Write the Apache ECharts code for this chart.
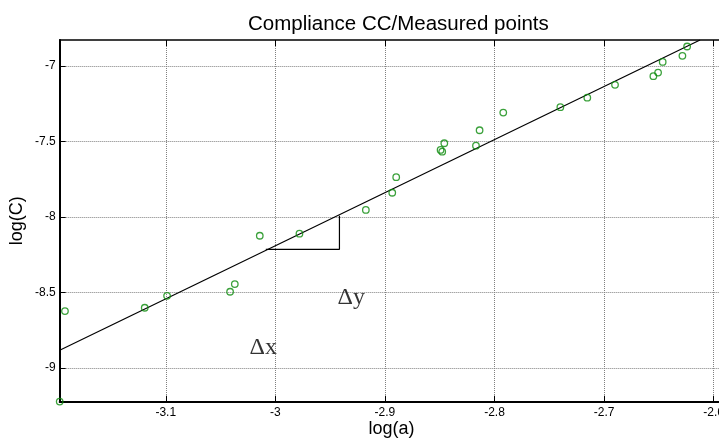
<!DOCTYPE html>
<html>
<head>
<meta charset="utf-8">
<script src="https://cdn.jsdelivr.net/npm/echarts@6/dist/echarts.min.js"></script>
<style>html,body{margin:0;padding:0;background:#fff}#c{width:719px;height:439px}</style>
</head>
<body>
<div id="c"></div>
<script>
// Measured points (log(a), log(C))
const logA = [-3.1920, -3.1968, -3.1192, -3.0988, -3.0413, -3.0370, -3.0142, -2.9780, -2.9174, -2.8933, -2.8897, -2.8492, -2.8477, -2.8458, -2.8169, -2.8136, -2.7920, -2.7399, -2.7153, -2.6900, -2.6550, -2.6507, -2.6465, -2.6285, -2.6242];
const logC = [-8.624, -9.224, -8.602, -8.523, -8.496, -8.445, -8.125, -8.111, -7.954, -7.840, -7.737, -7.556, -7.568, -7.512, -7.528, -7.426, -7.309, -7.273, -7.210, -7.125, -7.068, -7.044, -6.973, -6.933, -6.871];
// Fitted compliance line
const fitA = [-3.1968, -2.6124];
const fitC = [-8.884, -6.828];
// Slope triangle
const triA = [-3.0087, -2.9415, -2.9415];
const triC = [-8.2148, -8.2148, -7.992];
// Axis ticks
const xTicks = [-3.1, -3.0, -2.9, -2.8, -2.7, -2.6];
const yTicks = [-9, -8.5, -8, -7.5, -7];
const xRange = [-3.1968, -2.591];
const yRange = [-9.2245, -6.828];
// Annotations
const annText = ['\u0394y', '\u0394x'];
const annA = [-2.9308, -3.0111];
const annC = [-8.538, -8.869];

const zip = (a, b) => a.map((v, i) => [v, b[i]]);
const chart = echarts.init(document.getElementById('c'), null, {renderer: 'canvas'});
const gridStyle = {show: true, lineStyle: {color: '#808080', width: 1, type: [1, 1]}};
const fmt = v => String(Math.round(v * 10) / 10);
chart.setOption({
  animation: false,
  backgroundColor: '#fff',
  title: {
    text: 'Compliance CC/Measured points',
    left: 243, top: 9,
    textStyle: {fontFamily: 'Liberation Sans', fontSize: 20.5, fontWeight: 'normal', color: '#000'}
  },
  grid: {left: 59.7, top: 40, right: -4.5, bottom: 37.3, containLabel: false, outerBoundsMode: 'none'},
  xAxis: [{
    type: 'value', min: xRange[0], max: xRange[1], position: 'bottom',
    name: 'log(a)', nameLocation: 'middle', nameGap: 18, nameMoveOverlap: false,
    nameTextStyle: {fontFamily: 'Liberation Sans', fontSize: 18, color: '#000', verticalAlign: 'top'},
    axisLine: {show: true, onZero: false, lineStyle: {color: '#000', width: 2}},
    axisTick: {show: true, inside: true, length: 6, customValues: xTicks, lineStyle: {color: '#000', width: 1}},
    axisLabel: {customValues: xTicks, formatter: fmt, margin: 5, fontFamily: 'Liberation Sans', fontSize: 12, color: '#000'},
    splitLine: gridStyle
  }, {
    type: 'value', min: xRange[0], max: xRange[1], position: 'top',
    axisLine: {show: true, onZero: false, lineStyle: {color: '#000', width: 1.5}},
    axisTick: {show: true, inside: true, length: 6, customValues: xTicks, lineStyle: {color: '#000', width: 1}},
    axisLabel: {show: false},
    splitLine: {show: false}
  }],
  yAxis: [{
    type: 'value', min: yRange[0], max: yRange[1],
    name: 'log(C)', nameLocation: 'middle', nameGap: 34, nameRotate: 90, nameMoveOverlap: false,
    nameTextStyle: {fontFamily: 'Liberation Sans', fontSize: 18, color: '#000'},
    axisLine: {show: true, onZero: false, lineStyle: {color: '#000', width: 2}},
    axisTick: {show: true, inside: true, length: 6, customValues: yTicks, lineStyle: {color: '#000', width: 1}},
    axisLabel: {customValues: yTicks, formatter: fmt, margin: 4, fontFamily: 'Liberation Sans', fontSize: 12, color: '#000'},
    splitLine: gridStyle
  }],
  series: [{
    type: 'line', data: zip(fitA, fitC), symbol: 'none', clip: true,
    lineStyle: {color: '#000', width: 1.2}, z: 3
  }, {
    type: 'line', data: zip(triA, triC), symbol: 'none',
    lineStyle: {color: '#000', width: 1.2}, z: 3
  }, {
    type: 'scatter', data: zip(logA, logC), symbol: 'circle', symbolSize: 6.5, clip: false,
    itemStyle: {color: 'rgba(0,0,0,0)', borderColor: '#0a8a0a', borderWidth: 1.3}, z: 4
  }, {
    type: 'scatter', data: zip(annA, annC).map((p, i) => ({value: p, name: annText[i]})),
    symbolSize: 0,
    label: {show: true, position: 'inside', formatter: p => p.name,
      fontFamily: 'Liberation Serif', fontSize: 24, color: '#000'},
    z: 5
  }]
});
</script>
</body>
</html>
